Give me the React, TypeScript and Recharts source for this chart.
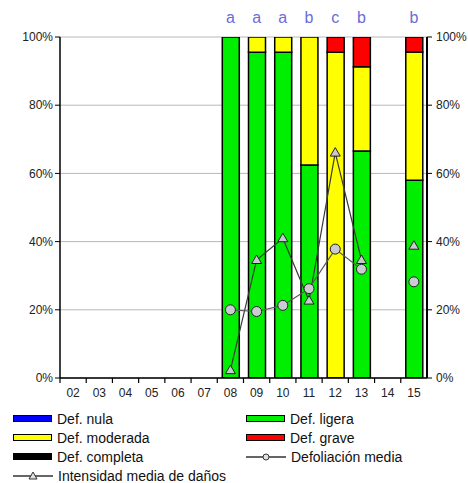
import React from 'react';
import {
  ComposedChart,
  Bar,
  Line,
  XAxis,
  YAxis,
  CartesianGrid,
} from 'recharts';

const years = ['02', '03', '04', '05', '06', '07', '08', '09', '10', '11', '12', '13', '14', '15'];
const defNula = [null, null, null, null, null, null, 0, 0, 0, 0, 0, 0, null, 0];
const defLigera = [null, null, null, null, null, null, 100, 95.5, 95.5, 62.5, 0, 66.6, null, 58];
const defModerada = [null, null, null, null, null, null, 0, 4.5, 4.5, 37.5, 95.5, 24.7, null, 37.6];
const defGrave = [null, null, null, null, null, null, 0, 0, 0, 0, 4.5, 8.7, null, 4.4];
const defCompleta = [null, null, null, null, null, null, 0, 0, 0, 0, 0, 0, null, 0];
const defoliacionMedia = [null, null, null, null, null, null, 20, 19.5, 21.3, 26.2, 37.8, 31.9, null, 28.2];
const intensidadMedia = [null, null, null, null, null, null, 2.3, 34.6, 41, 22.7, 66.1, 34.6, null, 38.8];
const sigLetters = ['', '', '', '', '', '', 'a', 'a', 'a', 'b', 'c', 'b', '', 'b'];
const yTicks = [0, 20, 40, 60, 80, 100];

const barSeries = [
  { key: 'nula', name: 'Def. nula', color: '#0000ff' },
  { key: 'ligera', name: 'Def. ligera', color: '#00ee00' },
  { key: 'moderada', name: 'Def. moderada', color: '#ffff00' },
  { key: 'grave', name: 'Def. grave', color: '#ff0000' },
  { key: 'completa', name: 'Def. completa', color: '#000000' },
];
const lineNames = { defol: 'Defoliación media', intens: 'Intensidad media de daños' };

const data = years.map((y, i) => ({
  year: y,
  nula: defNula[i],
  ligera: defLigera[i],
  moderada: defModerada[i],
  grave: defGrave[i],
  completa: defCompleta[i],
  defol: defoliacionMedia[i],
  intens: intensidadMedia[i],
  letter: sigLetters[i],
}));

const FONT = '"Liberation Sans", Arial, sans-serif';

const BottomTick = (props: any) => {
  const { x, y, payload } = props;
  const off = payload && payload.offset ? payload.offset : 0;
  const axisY = y - 10;
  return (
    <g>
      <line x1={x - off} x2={x - off} y1={axisY} y2={axisY + 5} stroke="#000" strokeWidth={1.2} />
      <text x={x} y={y + 9} textAnchor="middle" fontSize={12} fontFamily={FONT} fill="#222">
        {payload.value}
      </text>
    </g>
  );
};

const TriangleDot = (props: any) => {
  const { cx, cy, value } = props;
  if (value == null || cx == null || cy == null) return null;
  const s = 5;
  return (
    <path
      d={`M${cx},${cy - s} L${cx + s},${cy + s * 0.7} L${cx - s},${cy + s * 0.7} Z`}
      fill="#c8c8d0"
      stroke="#222"
      strokeWidth={1}
    />
  );
};

const CircleDot = (props: any) => {
  const { cx, cy, value } = props;
  if (value == null || cx == null || cy == null) return null;
  return <circle cx={cx} cy={cy} r={5} fill="#cbcbd4" stroke="#222" strokeWidth={1} />;
};

const Swatch = ({ color }: { color: string }) => (
  <span
    style={{
      display: 'inline-block',
      width: 37,
      height: 5,
      background: color,
      border: '1.5px solid #000',
      marginRight: 5,
    }}
  />
);

const LineIcon = ({ kind }: { kind: 'circle' | 'triangle' }) => (
  <svg width={40} height={10} style={{ marginRight: 5, display: 'inline-block' }}>
    <line x1={0} x2={40} y1={5} y2={5} stroke="#333" strokeWidth={1.3} />
    {kind === 'circle' ? (
      <circle cx={20} cy={5} r={3} fill="#e0e0e6" stroke="#333" strokeWidth={1} />
    ) : (
      <path d="M20,1 L24,8 L16,8 Z" fill="#e0e0e6" stroke="#333" strokeWidth={1} />
    )}
  </svg>
);

const LegendBlock = () => {
  const itemStyle: React.CSSProperties = {
    display: 'flex',
    alignItems: 'center',
    height: 19.2,
    fontSize: 14,
    lineHeight: '16px',
    fontFamily: FONT,
    color: '#111',
    whiteSpace: 'nowrap',
  };
  const items: React.ReactNode[] = barSeries.map((s) => (
    <div key={s.key} style={itemStyle}>
      <Swatch color={s.color} />
      {s.name}
    </div>
  ));
  items.push(
    <div key="defol" style={itemStyle}>
      <LineIcon kind="circle" />
      {lineNames.defol}
    </div>
  );
  items.push(
    <div key="intens" style={itemStyle}>
      <LineIcon kind="triangle" />
      {lineNames.intens}
    </div>
  );
  return (
    <div
      style={{
        position: 'absolute',
        left: 13,
        top: 409,
        width: 455,
        display: 'grid',
        gridTemplateColumns: '233px 220px',
      }}
    >
      {items}
    </div>
  );
};

export default function App() {
  return (
    <div style={{ position: 'absolute', left: 0, top: 0, width: 468, height: 483, background: '#fff' }}>
      <ComposedChart
        width={468}
        height={483}
        data={data}
        margin={{ top: 0, right: 0, left: 0, bottom: 75 }}
        barCategoryGap={0}
      >
        <CartesianGrid
          xAxisId="bottom"
          yAxisId="left"
          vertical={false}
          stroke="#b8b8b8"
          strokeWidth={1}
        />
        <XAxis
          xAxisId="top"
          orientation="top"
          dataKey="year"
          height={37}
          axisLine={false}
          tickLine={false}
          tickSize={10}
          tickMargin={4}
          interval={0}
          tickFormatter={(v: string) => sigLetters[years.indexOf(v)] || ''}
          tick={{ fill: '#6b6bdc', fontSize: 16, fontFamily: FONT }}
        />
        <XAxis
          xAxisId="bottom"
          dataKey="year"
          height={30}
          interval={0}
          axisLine={{ stroke: '#000', strokeWidth: 1.5 }}
          tickLine={false}
          tickSize={6}
          tickMargin={4}
          tick={<BottomTick />}
        />
        <YAxis
          yAxisId="left"
          width={60}
          domain={[0, 100]}
          ticks={yTicks}
          interval={0}
          allowDataOverflow
          tickFormatter={(v: number) => `${v}%`}
          axisLine={{ stroke: '#000', strokeWidth: 1.5 }}
          tickLine={{ stroke: '#000' }}
          tickSize={5}
          tickMargin={2}
          tick={{ fill: '#222', fontSize: 12, fontFamily: FONT }}
        />
        <YAxis
          yAxisId="right"
          orientation="right"
          width={41}
          domain={[0, 100]}
          ticks={yTicks}
          interval={0}
          allowDataOverflow
          tickFormatter={(v: number) => `${v}%`}
          axisLine={{ stroke: '#000', strokeWidth: 2 }}
          tickLine={{ stroke: '#000' }}
          tickSize={5}
          tickMargin={4}
          tick={{ fill: '#222', fontSize: 12, fontFamily: FONT }}
        />
        {barSeries.map((s) => (
          <Bar
            key={s.key}
            xAxisId="bottom"
            yAxisId="left"
            dataKey={s.key}
            name={s.name}
            stackId="def"
            fill={s.color}
            stroke="#000"
            strokeWidth={1.5}
            barSize={17}
            isAnimationActive={false}
          />
        ))}
        <Line
          xAxisId="bottom"
          yAxisId="left"
          dataKey="intens"
          name={lineNames.intens}
          stroke="#3a3a3a"
          strokeWidth={1.2}
          dot={<TriangleDot />}
          activeDot={false}
          connectNulls={false}
          isAnimationActive={false}
        />
        <Line
          xAxisId="bottom"
          yAxisId="left"
          dataKey="defol"
          name={lineNames.defol}
          stroke="#5a5a5a"
          strokeWidth={1.2}
          dot={<CircleDot />}
          activeDot={false}
          connectNulls={false}
          isAnimationActive={false}
        />
      </ComposedChart>
      <LegendBlock />
    </div>
  );
}
